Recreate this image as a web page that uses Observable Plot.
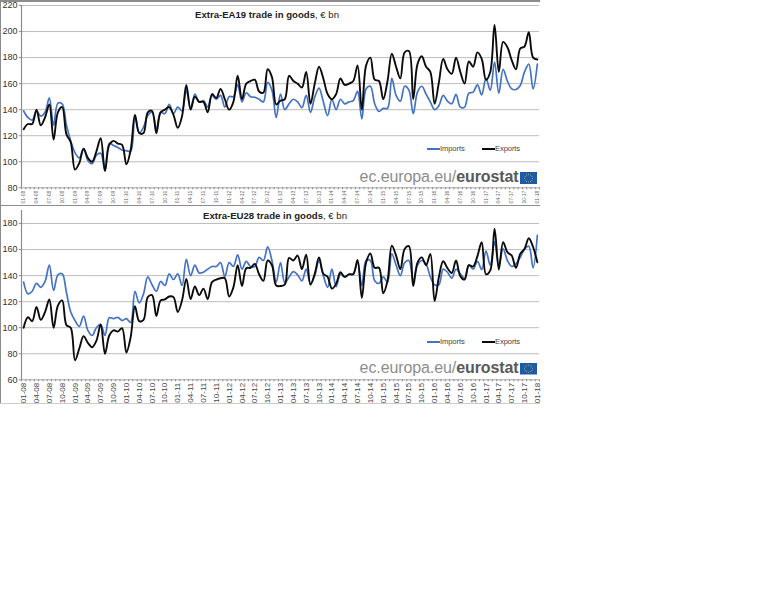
<!DOCTYPE html>
<html><head><meta charset="utf-8">
<script src="https://cdn.jsdelivr.net/npm/d3@7"></script>
<script src="https://cdn.jsdelivr.net/npm/@observablehq/plot@0.6"></script>
<style>
html,body{margin:0;padding:0;background:#fff;font-family:"Liberation Sans",Arial,sans-serif}
#page{position:relative;width:768px;height:614px;overflow:hidden}
.chart{position:absolute;left:0}
.abs{position:absolute;white-space:nowrap}
.edge{position:absolute;background:#8c8c8c}
.ttl{font-size:9.6px;color:#222;transform:translateX(-50%)}
.leg{font-size:7.6px;color:#444;letter-spacing:-.1px}
.sw{position:absolute;height:1.6px}
.logo{font-size:16px;color:#8d8d8d;letter-spacing:-.1px}
.logo b{color:#58595b}
</style></head><body><div id="page"></div>
<script>
const ea19Imports = [139,134,132,139,135,138,149,128,145,144.5,128,116,107,103,110,101,98.5,105,106.5,93,114,112.5,111,109,108.5,108,135.5,122,126.5,135.5,138,125,138,137,144,137,142,139,155,141,152,146,147,142,151,148,151,142,150,150,159,146,153,150,149.5,148,146,161,155,134,
152,140,144.5,148,146,141.5,151,138,149.6,156.5,146,135.5,148,140,148,144.5,146,147,154,133,156,158,144.5,138.6,141,141,164,151,146.5,158,155,137,153.5,158,152,146,140,143,151,146.5,144.5,151.7,142,142,152.7,153.5,159,151.4,164,155,176.5,152.7,171,162,156,155.5,158.6,169,175,156,175];
const ea19Exports = [125,129,129,140,128,134,144,117,138,142,121,115,94,99,110,103,100,108,118,93,113,116,114,113,98,109,136,122,122,138,139,122,138,140,142,136,126,135,159,140,150,146,146,138,152,149,156,148,140,146,166,148,160,162,163,154,153,171,165,144,
147,148,166,162,160,157,169,144.5,160,173,164,152,148,152,164,159,160,162,174,140,174,180,163,162,148,162,183,173,164,184,185,148,175,181,173,169,144.5,161,179,171,167.5,180,169,160,177,173,184,179,163,169,205,169,192,188,178,171,187,188.5,199.5,180,178.5];
const eu28Imports = [135,126,128,134,131,135.5,148,128.6,140.6,141.4,127,112,105.5,101,109,98,94,100,102.5,94,107.6,107,108,105.5,107,104,128,119,126,139,133,128,135.5,132.4,141.4,137,141.4,132.4,152.4,140,148,142,142.6,145,147,147,150,139,150,147,156,145,151,147,147,154,151.6,162,151.6,135,
150,134.5,139,143,140.6,136,145,133.7,140,151.6,140,131,145,131.6,141,139,141,141.4,150,132.4,151.6,151.6,136,134,139,135,156.7,148,140,150,151.6,136,148,151.6,149,139,133,133,145,142.6,138,145,141.4,138,148,145,151,144.7,158.8,148,166,148,160.5,151.6,147,149,154,160.5,162.6,146,171];
const eu28Exports = [100,108,105,116,106,112,121.7,100,117,121,102,100,75,84,93.5,88.4,85,90,102.5,80,94,98,97,99.7,81,92.8,116.5,105,106,123.5,125,109,121,121.7,124,123.5,112,121,137.5,122,131.6,125,130,122,135,137,138,138,124,131,148,132,145.7,146,149,141,136,151.6,148,132.4,
132,133,153.6,151.6,155.4,145,156,133,141.4,154,141.4,139,130,133.7,142.6,139,141,141,152,123,150,157,146,146,126.5,136,163,155.4,145,160.5,162.6,132,150,154,148,156.7,120.4,139,151,145.7,142,151.6,139.6,137,148,147,155,165.7,141,144,176,144.7,165.7,158,155.4,146,156.7,160.5,168.7,162,150.3];
const quarterLabels = d3.range(2008,2019).flatMap(y => ["01","04","07","10"].map(m => `${m}-${String(y).slice(2)}`)).slice(0,41);
const seriesColors = {Imports:"#4472c4", Exports:"#0b0b0b"};

const page = document.getElementById("page");
function panel({top,height,imports,exports,yDomain,yTicks,marginTop,marginBottom,tickSize,tickColor,title,titleLeft,titleTop,legendTop,logoTop,flagTop,flagH}){
  const rows = [...imports.map((v,i)=>({i,v,s:"Imports"})),...exports.map((v,i)=>({i,v,s:"Exports"}))];
  const svg = Plot.plot({
    width:560,height,marginLeft:21,marginRight:21,marginTop,marginBottom,
    style:{fontFamily:'"Liberation Sans",Arial,sans-serif',background:"transparent",overflow:"visible"},
    x:{type:"linear",domain:[-0.5,120.5]},
    y:{domain:yDomain},
    marks:[
      Plot.ruleY(yTicks.slice(1),{stroke:"#bdbdbd",strokeWidth:1}),
      Plot.ruleX([-0.5],{stroke:"#8c8c8c",strokeWidth:1.2}),
      Plot.ruleY(yTicks.slice(0,1),{stroke:"#a8a8a8",strokeWidth:1}),
      Plot.axisY({ticks:yTicks,tickSize:2,tickPadding:2,fontSize:9,color:"#333",stroke:"#8c8c8c",label:null}),
      Plot.axisX({ticks:d3.range(-0.5,121),tickSize:2,tickFormat:()=>"",stroke:"#888",label:null}),
      Plot.axisX({ticks:d3.range(0,121,3),tickSize:0,tickPadding:tickSize.pad,tickRotate:-90,fontSize:tickSize.font,color:tickColor,
        tickFormat:d=>quarterLabels[d/3],label:null}),
      Plot.line(rows,{filter:d=>d.s==="Imports",x:"i",y:"v",stroke:seriesColors.Imports,strokeWidth:1.7,curve:"catmull-rom"}),
      Plot.line(rows,{filter:d=>d.s==="Exports",x:"i",y:"v",stroke:seriesColors.Exports,strokeWidth:1.9,curve:"catmull-rom"})
    ]
  });
  svg.classList.add("chart");
  svg.style.top = top+"px";
  page.appendChild(svg);

  const t = document.createElement("div");
  t.className="abs ttl"; t.style.left=titleLeft+"px"; t.style.top=titleTop+"px";
  t.innerHTML=`<b>${title}</b>, € bn`;
  page.appendChild(t);

  [["Imports",427,440],["Exports",482,495]].forEach(([name,a,b])=>{
    const s=document.createElement("div");
    s.className="sw"; s.style.cssText+=`left:${a}px;width:${b-a}px;top:${legendTop+4.5}px;background:${seriesColors[name]}`;
    page.appendChild(s);
    const l=document.createElement("div");
    l.className="abs leg"; l.style.left=b+"px"; l.style.top=legendTop+"px"; l.textContent=name;
    page.appendChild(l);
  });

  const logo=document.createElement("div");
  logo.className="abs logo"; logo.style.right=(768-518.5)+"px"; logo.style.top=logoTop+"px";
  logo.innerHTML="ec.europa.eu/<b>eurostat</b>";
  page.appendChild(logo);

  const flag=d3.create("svg").attr("width",17).attr("height",flagH).attr("viewBox","0 0 17 13")
    .attr("preserveAspectRatio","none")
    .style("position","absolute").style("left","520px").style("top",flagTop+"px");
  flag.append("rect").attr("width",17).attr("height",13).attr("fill","#1f5aa6");
  d3.range(12).forEach(k=>flag.append("circle")
    .attr("cx",8.5+3.9*Math.cos(k*Math.PI/6)).attr("cy",6.5+3.9*Math.sin(k*Math.PI/6))
    .attr("r",.5).attr("fill","#e8d84a"));
  page.appendChild(flag.node());
}
panel({top:0,height:205,imports:ea19Imports,exports:ea19Exports,yDomain:[80,220],yTicks:d3.range(80,221,20),
  marginTop:5,marginBottom:17.7,tickSize:{pad:3,font:5},tickColor:"#666",
  title:"Extra-EA19 trade in goods",titleLeft:267,titleTop:9,legendTop:143.5,logoTop:168,flagTop:171.5,flagH:12.5});
panel({top:205,height:198,imports:eu28Imports,exports:eu28Exports,yDomain:[60,190],yTicks:d3.range(60,181,20),
  marginTop:5,marginBottom:23.7,tickSize:{pad:3,font:8},tickColor:"#444",
  title:"Extra-EU28 trade in goods",titleLeft:275,titleTop:210,legendTop:336.5,logoTop:359,flagTop:363,flagH:11.5});

[["left:0;top:0;width:540px;height:1.5px"],["left:0;top:205px;width:540px;height:1px"],["left:0;top:0;width:1.2px;height:403px"],["left:0;top:403px;width:540px;height:.6px;background:#ccc"]]
 .forEach(([c])=>{const e=document.createElement("div");e.className="edge";e.style.cssText+=c;page.appendChild(e);});
</script></body></html>
